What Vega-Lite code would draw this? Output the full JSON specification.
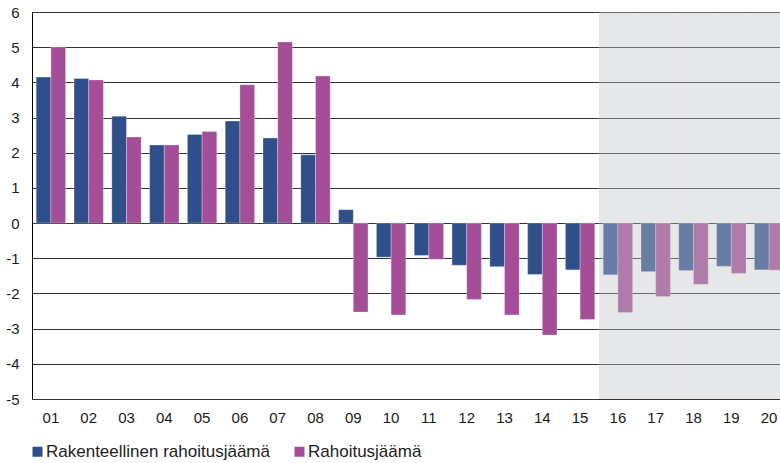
{
  "$schema": "https://vega.github.io/schema/vega-lite/v6.json",
  "width": 756,
  "height": 387,
  "autosize": "none",
  "padding": {"left": 32, "top": 12, "right": 0, "bottom": 64},
  "background": "white",
  "config": {"view": {"stroke": null}, "font": "Liberation Sans"},
  "datasets": {
    "bars": [
      {"year": "01", "series": "Rakenteellinen rahoitusjäämä", "value": 4.15},
      {"year": "01", "series": "Rahoitusjäämä", "value": 5.0},
      {"year": "02", "series": "Rakenteellinen rahoitusjäämä", "value": 4.11},
      {"year": "02", "series": "Rahoitusjäämä", "value": 4.07},
      {"year": "03", "series": "Rakenteellinen rahoitusjäämä", "value": 3.04},
      {"year": "03", "series": "Rahoitusjäämä", "value": 2.45},
      {"year": "04", "series": "Rakenteellinen rahoitusjäämä", "value": 2.22},
      {"year": "04", "series": "Rahoitusjäämä", "value": 2.22},
      {"year": "05", "series": "Rakenteellinen rahoitusjäämä", "value": 2.52},
      {"year": "05", "series": "Rahoitusjäämä", "value": 2.6},
      {"year": "06", "series": "Rakenteellinen rahoitusjäämä", "value": 2.9},
      {"year": "06", "series": "Rahoitusjäämä", "value": 3.93},
      {"year": "07", "series": "Rakenteellinen rahoitusjäämä", "value": 2.42},
      {"year": "07", "series": "Rahoitusjäämä", "value": 5.15},
      {"year": "08", "series": "Rakenteellinen rahoitusjäämä", "value": 1.94},
      {"year": "08", "series": "Rahoitusjäämä", "value": 4.18},
      {"year": "09", "series": "Rakenteellinen rahoitusjäämä", "value": 0.38},
      {"year": "09", "series": "Rahoitusjäämä", "value": -2.53},
      {"year": "10", "series": "Rakenteellinen rahoitusjäämä", "value": -0.97},
      {"year": "10", "series": "Rahoitusjäämä", "value": -2.61},
      {"year": "11", "series": "Rakenteellinen rahoitusjäämä", "value": -0.92},
      {"year": "11", "series": "Rahoitusjäämä", "value": -1.03},
      {"year": "12", "series": "Rakenteellinen rahoitusjäämä", "value": -1.2},
      {"year": "12", "series": "Rahoitusjäämä", "value": -2.17},
      {"year": "13", "series": "Rakenteellinen rahoitusjäämä", "value": -1.24},
      {"year": "13", "series": "Rahoitusjäämä", "value": -2.61},
      {"year": "14", "series": "Rakenteellinen rahoitusjäämä", "value": -1.46},
      {"year": "14", "series": "Rahoitusjäämä", "value": -3.18},
      {"year": "15", "series": "Rakenteellinen rahoitusjäämä", "value": -1.33},
      {"year": "15", "series": "Rahoitusjäämä", "value": -2.74},
      {"year": "16", "series": "Rakenteellinen rahoitusjäämä", "value": -1.47},
      {"year": "16", "series": "Rahoitusjäämä", "value": -2.54},
      {"year": "17", "series": "Rakenteellinen rahoitusjäämä", "value": -1.38},
      {"year": "17", "series": "Rahoitusjäämä", "value": -2.09},
      {"year": "18", "series": "Rakenteellinen rahoitusjäämä", "value": -1.35},
      {"year": "18", "series": "Rahoitusjäämä", "value": -1.74},
      {"year": "19", "series": "Rakenteellinen rahoitusjäämä", "value": -1.23},
      {"year": "19", "series": "Rahoitusjäämä", "value": -1.43},
      {"year": "20", "series": "Rakenteellinen rahoitusjäämä", "value": -1.33},
      {"year": "20", "series": "Rahoitusjäämä", "value": -1.34}
    ],
    "forecast": [
      {"year": "16"}, {"year": "17"}, {"year": "18"}, {"year": "19"}, {"year": "20"}
    ]
  },
  "layer": [
    {
      "data": {"name": "bars"},
      "mark": {"type": "bar", "stroke": "#ffffff", "strokeWidth": 0.6, "strokeOpacity": 0.5},
      "encoding": {
        "x": {
          "field": "year",
          "type": "ordinal",
          "scale": {
            "domain": ["01","02","03","04","05","06","07","08","09","10","11","12","13","14","15","16","17","18","19","20"],
            "paddingInner": 0,
            "paddingOuter": 0
          },
          "axis": {
            "title": null,
            "labelAngle": 0,
            "ticks": false,
            "domain": false,
            "labelFontSize": 15,
            "labelColor": "#1a1a1a",
            "labelPadding": 11,
            "labelDx": 3
          }
        },
        "xOffset": {
          "field": "series",
          "type": "nominal",
          "sort": ["Rakenteellinen rahoitusjäämä", "Rahoitusjäämä"],
          "scale": {"paddingInner": 0, "paddingOuter": 0.286}
        },
        "y": {
          "field": "value",
          "type": "quantitative",
          "scale": {"domain": [-5, 6], "nice": false, "zero": false},
          "axis": {
            "title": null,
            "values": [-5,-4,-3,-2,-1,0,1,2,3,4,5,6],
            "labelExpr": "toString(datum.value)",
            "labelOverlap": false,
            "labelFlush": false,
            "ticks": false,
            "domainColor": "#000000",
            "domainWidth": 1,
            "gridColor": "#333333",
            "gridOpacity": 1,
            "gridWidth": 1,
            "labelFontSize": 15,
            "labelColor": "#1a1a1a",
            "labelPadding": 13
          }
        },
        "color": {
          "field": "series",
          "type": "nominal",
          "scale": {
            "domain": ["Rakenteellinen rahoitusjäämä", "Rahoitusjäämä"],
            "range": ["#2e4f8a", "#a34e97"]
          },
          "legend": {
            "orient": "none",
            "legendX": -3,
            "legendY": 431,
            "direction": "horizontal",
            "title": null,
            "symbolType": "square",
            "symbolSize": 100,
            "symbolStrokeWidth": 0,
            "labelFontSize": 17,
            "labelLimit": 400,
            "labelColor": "#222222",
            "labelOffset": 0,
            "columnPadding": 21,
            "padding": 0
          }
        }
      }
    },
    {
      "data": {"name": "forecast"},
      "mark": {"type": "rect", "color": "#c1c3c8", "opacity": 0.4},
      "encoding": {
        "x": {"field": "year", "type": "ordinal"},
        "y": {
          "datum": 6,
          "type": "quantitative",
          "axis": {
            "title": null,
            "values": [-5,-4,-3,-2,-1,0,1,2,3,4,5,6],
            "labelExpr": "toString(datum.value)",
            "labelOverlap": false,
            "labelFlush": false,
            "ticks": false,
            "domainColor": "#000000",
            "domainWidth": 1,
            "gridColor": "#333333",
            "gridOpacity": 1,
            "gridWidth": 1,
            "labelFontSize": 15,
            "labelColor": "#1a1a1a",
            "labelPadding": 13
          }
        },
        "y2": {"datum": -5}
      }
    }
  ]
}
